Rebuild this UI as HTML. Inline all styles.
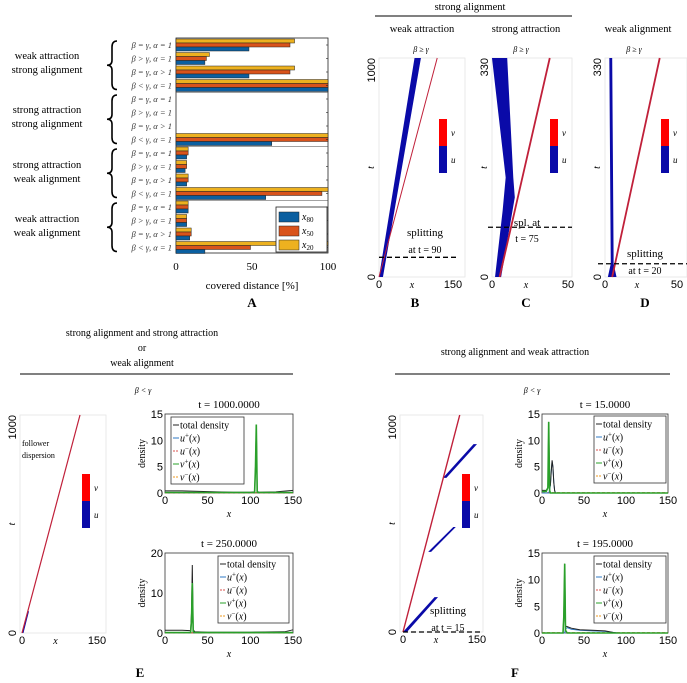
<!DOCTYPE html>
<html><head><meta charset="utf-8"><style>
html,body{margin:0;padding:0;background:#fff;}
svg{display:block;font-family:"Liberation Serif",serif;}
.s{font-family:"Liberation Sans",sans-serif;}
.i{font-style:italic;}
</style></head><body>
<svg id="fig" width="687" height="683" viewBox="0 0 687 683">
<g font-size="10.5" text-anchor="middle">
<text x="47" y="59">weak attraction</text><text x="47" y="73">strong alignment</text>
<text x="47" y="113">strong attraction</text><text x="47" y="127">strong alignment</text>
<text x="47" y="168">strong attraction</text><text x="47" y="182">weak alignment</text>
<text x="47" y="222">weak attraction</text><text x="47" y="236">weak alignment</text>
</g>
<text x="252" y="289" font-size="11" text-anchor="middle">covered distance [%]</text>
<text x="252" y="307" font-size="13" font-weight="bold" text-anchor="middle">A</text>

<text x="470" y="10" font-size="10.5" text-anchor="middle">strong alignment</text>
<line x1="375" y1="16" x2="572" y2="16" stroke="#000" stroke-width="1"/>
<text x="422" y="32" font-size="10.5" text-anchor="middle">weak attraction</text>
<text x="526" y="32" font-size="10.5" text-anchor="middle">strong attraction</text>
<text x="638" y="32" font-size="10.5" text-anchor="middle">weak alignment</text>
<text x="421" y="52" font-size="8" text-anchor="middle" class="i">β ≥ γ</text>
<text x="521" y="52" font-size="8" text-anchor="middle" class="i">β ≥ γ</text>
<text x="634" y="52" font-size="8" text-anchor="middle" class="i">β ≥ γ</text>
<text x="415" y="307" font-size="13" font-weight="bold" text-anchor="middle">B</text>
<text x="526" y="307" font-size="13" font-weight="bold" text-anchor="middle">C</text>
<text x="645" y="307" font-size="13" font-weight="bold" text-anchor="middle">D</text>

<g font-size="10" text-anchor="middle">
<text x="142" y="336">strong alignment and strong attraction</text>
<text x="142" y="351">or</text>
<text x="142" y="366">weak alignment</text>
</g>
<line x1="20" y1="374" x2="293" y2="374" stroke="#000"/>
<text x="143" y="393" font-size="8" class="i" text-anchor="middle">β &lt; γ</text>
<text x="140" y="677" font-size="13" font-weight="bold" text-anchor="middle">E</text>
<text x="515" y="355" font-size="10" text-anchor="middle">strong alignment and weak attraction</text>
<line x1="395" y1="374" x2="670" y2="374" stroke="#000"/>
<text x="532" y="393" font-size="8" class="i" text-anchor="middle">β &lt; γ</text>
<text x="515" y="677" font-size="13" font-weight="bold" text-anchor="middle">F</text>
</svg>
<script>
var NS="http://www.w3.org/2000/svg";
var svg=document.getElementById('fig');
function mk(tag,attrs,parent){var e=document.createElementNS(NS,tag);for(var k in attrs)e.setAttribute(k,attrs[k]);(parent||svg).appendChild(e);return e;}
function txt(x,y,s,attrs,parent){var a=attrs||{};a.x=x;a.y=y;var e=mk('text',a,parent);e.textContent=s;return e;}

/* ===== Panel A data ===== */
var rowLabels=["β = γ, α = 1","β > γ, α = 1","β = γ, α > 1","β < γ, α = 1","β = γ, α = 1","β > γ, α = 1","β = γ, α > 1","β < γ, α = 1","β = γ, α = 1","β > γ, α = 1","β = γ, α > 1","β < γ, α = 1","β = γ, α = 1","β > γ, α = 1","β = γ, α > 1","β < γ, α = 1"];
var x80=[48,19,48,100,0,0,0,63,7,6,7,59,8,7,9,19];
var x50=[75,20,75,100,0,0,0,100,8,7,8,96,8,7,10,49];
var x20=[78,22,78,100,0,0,0,100,8,7,8,100,8,7,10,100];
var aTicks=[0,50,100];
var seriesColors=["#0b5fa0","#d9531b","#edb11f"];
var ax0=176,ax1=328,ay0=38,ay1=253,rowH=13.5,rowStart=45;
function axA(v){return ax0+(ax1-ax0)*v/100;}
function ayA(i){return rowStart+i*rowH;}
var gA=mk('g',{});


var frA=mk('rect',{x:ax0,y:ay0,width:ax1-ax0,height:ay1-ay0,fill:'#fff',stroke:'#222','stroke-width':0.8},gA);


[2,4,6].forEach(function(k){var y=(ayA(4*k/2-1)+ayA(4*k/2))/2;var l=mk('line',{x1:ax0,x2:ax1,y1:y,y2:y,stroke:'#444','stroke-width':0.6},gA);

});
rowLabels.forEach(function(lab,i){
 var c=ayA(i);
 var vals=[x20[i],x50[i],x80[i]],cols=[seriesColors[2],seriesColors[1],seriesColors[0]],nm=['bar-x20','bar-x50','bar-x80'];
 for(var j=0;j<3;j++){
  if(vals[j]<=0)continue;
  var r=mk('rect',{x:axA(0),y:c-6+j*4,width:axA(vals[j])-axA(0),height:4,fill:cols[j],stroke:'#222','stroke-width':0.5},gA);
  
  
 }
 var t=txt(172,c+3,lab,{'font-size':8.5,'text-anchor':'end',class:'i',fill:'#333'},gA);
 
 
 var tk=mk('line',{x1:ax1-2,x2:ax1,y1:c,y2:c,stroke:'#222','stroke-width':0.6},gA);
 
 
});
aTicks.forEach(function(v){var t=txt(axA(v),270,String(v),{'font-size':11,'text-anchor':'middle'},gA);

});
[0,4,8,12].forEach(function(g){
 var y0=ayA(g)-4,y1=ayA(g+3)+4,m=(y0+y1)/2,x=112;
 var p=mk('path',{d:'M'+(x+5)+' '+y0+' Q'+x+' '+y0+' '+x+' '+(y0+6)+' L'+x+' '+(m-5)+' Q'+x+' '+m+' '+(x-5)+' '+m+' Q'+x+' '+m+' '+x+' '+(m+5)+' L'+x+' '+(y1-6)+' Q'+x+' '+y1+' '+(x+5)+' '+y1,fill:'none',stroke:'#000','stroke-width':1.6},gA);
 
 
});
var lgA=mk('g',{},gA);


mk('rect',{x:276,y:207,width:51,height:45,fill:'#fff',stroke:'#222','stroke-width':0.8},lgA);
var lgSub=['80','50','20'];
[0,1,2].forEach(function(j){
 var y=212+j*14;
 var sw=mk('rect',{x:279,y:y,width:20,height:10,fill:seriesColors[j],stroke:'#222','stroke-width':0.5},lgA);
 
 
 var t=txt(302,y+8,'',{'font-size':10,class:'i'},lgA);
 
 
 t.textContent='x';
 var ts=mk('tspan',{'font-size':7,dy:2,'font-style':'normal'},t);ts.textContent=lgSub[j];
});

/* ===== Space-time panels ===== */
function spaceTime(o){
 var g=mk('g',{});
 
 
 mk('rect',{x:o.x0,y:o.y0,width:o.x1-o.x0,height:o.y1-o.y0,fill:'#fff',stroke:'#e4e4e4','stroke-width':0.8},g);
 function X(v){return o.ox+(o.xmaxPx-o.ox)*v/o.xmax;}
 function Y(v){return o.y1-(o.y1-o.y0)*v/o.tmax;}
 (o.blue||[]).forEach(function(poly){
  var pts=poly.map(function(p){return X(p[0])+','+Y(p[1]);}).join(' ');
  var e=mk('polygon',{points:pts,fill:'#0a0aa8'},g);
  
  
 });
 (o.red||[]).forEach(function(l){
  var e=mk('line',{x1:X(l[0]),y1:Y(l[1]),x2:X(l[2]),y2:Y(l[3]),stroke:'#c0203a','stroke-width':l[4]||1.2},g);
  
  
 });
 if(o.split!=null){
  var e=mk('line',{x1:o.dx0,x2:o.dx1,y1:Y(o.split),y2:Y(o.split),stroke:'#000','stroke-width':1.3,'stroke-dasharray':'5,3'},g);
  
  
 }
 var cb=mk('rect',{x:o.cbx,y:119+o.cbdy,width:8,height:27,fill:'#ff0000'},g);
 
 
 var cb2=mk('rect',{x:o.cbx,y:146+o.cbdy,width:8,height:27,fill:'#0a0aa8'},g);
 
 
 var tv=txt(o.cbx+12,136+o.cbdy,'v',{'font-size':9,class:'i'},g);
 
 
 var tu=txt(o.cbx+12,163+o.cbdy,'u',{'font-size':9,class:'i'},g);
 
 
 var tb=o.y1+11;
 var t0=txt(X(0),tb,'0',{'font-size':11,'text-anchor':'middle',class:'s'},g);
 
 
 var t1=txt(X(o.xmax),tb,String(o.xmax),{'font-size':11,'text-anchor':'middle',class:'s'},g);
 
 
 var tx=txt((X(0)+X(o.xmax))/2-4,tb,'x',{'font-size':10,'text-anchor':'middle',class:'i'},g);
 
 
 var ly=txt(0,0,'0',{'font-size':11,'text-anchor':'middle',class:'s',transform:'translate('+(o.x0-4)+','+o.y1+') rotate(-90)'},g);
 
 
 var ly2=txt(0,0,String(o.tmax),{'font-size':11,'text-anchor':'end',class:'s',transform:'translate('+(o.x0-4)+','+o.y0+') rotate(-90)'},g);
 
 
 var tt=txt(0,0,'t',{'font-size':10,'text-anchor':'middle',class:'i',transform:'translate('+(o.x0-5)+','+((o.y0+o.y1)/2)+') rotate(-90)'},g);
 
 
 (o.notes||[]).forEach(function(n){var e=txt(n[0],n[1],n[2],{'font-size':n[3]||10,'text-anchor':n[4]||'middle'},g);
 
 });
 return g;
}
// B
var bBlue=[[[0,0],[8,0],[85,1000],[72,1000]]];
var bRed=[[0,0],[118,1000]];
spaceTime({name:'spacetime-b',x0:379,x1:465,y0:58,y1:277,ox:379,xmaxPx:453,xmax:150,tmax:1000,
 blue:bBlue,red:[[bRed[0][0],bRed[0][1],bRed[1][0],bRed[1][1],1]],split:90,dx0:379,dx1:456,cbx:439,cbdy:0,
 notes:[[425,236,'splitting',11],[425,253,'at t = 90',10]]});
// C
var cBlue=[[[2,0],[6,0],[15,120],[14,150],[10,330],[0,330],[9,150],[7,100]]];
var cRed=[[5,0],[38,330]];
spaceTime({name:'spacetime-c',x0:492,x1:572,y0:58,y1:277,ox:492,xmaxPx:568,xmax:50,tmax:330,
 blue:cBlue,red:[[cRed[0][0],cRed[0][1],cRed[1][0],cRed[1][1],1.8]],split:75,dx0:488,dx1:572,cbx:550,cbdy:0,
 notes:[[527,226,'spl. at',11],[527,242,'t = 75',10]]});
// D
var dBlue=[[[2,0],[8,0],[6,20],[5,330],[3,330],[4,20]]];
var dRed=[[5,0],[38,330]];
spaceTime({name:'spacetime-d',x0:605,x1:687,y0:58,y1:277,ox:605,xmaxPx:677,xmax:50,tmax:330,
 blue:dBlue,red:[[dRed[0][0],dRed[0][1],dRed[1][0],dRed[1][1],1.8]],split:20,dx0:598,dx1:687,cbx:661,cbdy:0,
 notes:[[645,257,'splitting',11],[645,274,'at t = 20',10]]});
// E
var eRed=[[0,0],[116,1000]];
spaceTime({name:'spacetime-e',x0:20,x1:106,y0:415,y1:633,ox:22,xmaxPx:97,xmax:150,tmax:1000,
 blue:[[[0,0],[3,0],[14,100],[11,100]]],red:[[eRed[0][0],eRed[0][1],eRed[1][0],eRed[1][1],1.2]],split:null,cbx:82,cbdy:355,
 notes:[[22,446,'follower',8,'start'],[22,458,'dispersion',8,'start']]});
// F
var fBlue=[[[0,0],[8,0],[71,161],[64,161]],[[51,369],[57,369],[107,484],[102,484]],[[81,710],[88,710],[150,866],[143,866]]];
var fRed=[[0,0],[115,1000]];
spaceTime({name:'spacetime-f',x0:400,x1:483,y0:415,y1:632,ox:403,xmaxPx:477,xmax:150,tmax:1000,
 blue:fBlue,red:[[fRed[0][0],fRed[0][1],fRed[1][0],fRed[1][1],1.4]],split:0,dx0:403,dx1:480,cbx:462,cbdy:355,
 notes:[[448,614,'splitting',11],[448,631,'at t = 15',10]]});

/* ===== Density plots ===== */
var e1X=[0,20,40,60,80,100,105,106,107,108,110,130,150];
var e1Total=[0.4,0.4,0.3,0.2,0.15,0.15,0.2,5,13,0.3,0.15,0.2,0.5];
var e1Green=[0.1,0.1,0.1,0.1,0.1,0.1,0.1,5,13,0.1,0.1,0.1,0.1];
var e2X=[0,10,20,29,30,31,32,33,35,50,100,140,150];
var e2Total=[0.7,0.7,0.7,0.6,0.6,5,17,0.8,0.3,0.2,0.2,0.3,0.8];
var e2Green=[0.1,0.1,0.1,0.1,0.1,3,12.5,0.3,0.1,0.1,0.1,0.1,0.1];
var f1X=[0,5,7,8,9,10,11,12,13,14,15,16,20,150];
var f1Total=[0.5,0.5,1,13.5,1,1.5,4,6.2,5,2,0.5,0,0,0];
var f1Green=[0.3,0.3,1,13.5,0.5,0,0,0,0,0,0,0,0,0];
var f1Blue=[0,0,0,0,0.5,1.5,4,6,5,2,0.5,0,0,0];
var f2X=[0,25,26,27,28,30,35,45,60,75,85,90,150];
var f2Total=[0,0,3,13,1.3,1.2,0.9,0.6,0.5,0.4,0.1,0,0];
var f2Green=[0,0,3,13,0.5,0,0,0,0,0,0,0,0];
var f2Blue=[0,0,0,0,0.8,1,0.7,0.5,0.4,0.3,0.1,0,0];
var dTicksX=[0,50,100,150];

function density(o){
 var g=mk('g',{});
 
 
 function X(v){return o.x0+(o.x1-o.x0)*v/150;}
 function Y(v){return o.y1-(o.y1-o.y0)*v/o.ymax;}
 mk('rect',{x:o.x0,y:o.y0,width:o.x1-o.x0,height:o.y1-o.y0,fill:'#fff',stroke:'#333','stroke-width':0.8},g);
 var tl=txt((o.x0+o.x1)/2,o.y0-6,o.title,{'font-size':11,'text-anchor':'middle'},g);
 
 
 dTicksX.forEach(function(v){var t=txt(X(v),o.y1+11,String(v),{'font-size':11,'text-anchor':'middle',class:'s'},g);
 
 });
 o.yticks.forEach(function(v){var t=txt(o.x0-2,Y(v)+4,String(v),{'font-size':11,'text-anchor':'end',class:'s'},g);
 
 });
 var xt=txt((o.x0+o.x1)/2,o.y1+24,'x',{'font-size':10,'text-anchor':'middle',class:'i'},g);
 
 
 var yt=txt(0,0,'density',{'font-size':10,'text-anchor':'middle',transform:'translate('+(o.x0-20)+','+((o.y0+o.y1)/2)+') rotate(-90)'},g);
 
 
 function line(xs,ys,col,w,dash,nm){
  var d=xs.map(function(x,i){return (i?'L':'M')+X(x).toFixed(1)+' '+Y(ys[i]).toFixed(1);}).join(' ');
  var p=mk('path',{d:d,fill:'none',stroke:col,'stroke-width':w},g);
  if(dash)p.setAttribute('stroke-dasharray',dash);
  
  
 }
 var zeros=o.xs.map(function(){return 0.05;});
 line(o.xs,zeros,'#ed9a1f',1,'3,2','series-v-minus');
 line(o.xs,zeros,'#d9534f',1,'3,2','series-u-minus');
 if(o.blue)line(o.xs,o.blue,'#2f78c4',1,null,'series-u-plus');
 line(o.xs,o.total,'#222',1,null,'series-total-density');
 line(o.xs,o.green,'#2aa02a',1.6,null,'series-v-plus');
 var lg=mk('g',{},g);
 
 
 mk('rect',{x:o.lx,y:o.ly,width:o.lw,height:67,fill:'#fff',stroke:'#333','stroke-width':0.8},lg);
 var items=[['total density','#222',null],['u','#2f78c4',null,'+'],['u','#d9534f','3,2','−'],['v','#2aa02a',null,'+'],['v','#ed9a1f','3,2','−']];
 items.forEach(function(it,k){
  var y=o.ly+8+k*13;
  var l=mk('line',{x1:o.lx+2,x2:o.lx+8,y1:y,y2:y,stroke:it[1],'stroke-width':1},lg);
  if(it[2])l.setAttribute('stroke-dasharray','2,1');
  
  
  var t=txt(o.lx+9,y+3.5,'',{'font-size':10},lg);
  
  
  if(k===0){t.textContent=it[0];}
  else{
   var a=mk('tspan',{'font-style':'italic'},t);a.textContent=it[0];
   var b=mk('tspan',{'font-size':7,dy:-4},t);b.textContent=it[3];
   var c=mk('tspan',{dy:4},t);c.textContent='(';
   var d=mk('tspan',{'font-style':'italic'},t);d.textContent='x';
   var e=mk('tspan',{},t);e.textContent=')';
  }
 });
}
density({name:'density-e-t1000',x0:165,x1:293,y0:414,y1:493,ymax:15,yticks:[0,5,10,15],title:'t = 1000.0000',xs:e1X,total:e1Total,green:e1Green,lx:171,ly:417,lw:73});
density({name:'density-e-t250',x0:165,x1:293,y0:553,y1:633,ymax:20,yticks:[0,10,20],title:'t = 250.0000',xs:e2X,total:e2Total,green:e2Green,lx:218,ly:556,lw:71});
density({name:'density-f-t15',x0:542,x1:668,y0:414,y1:493,ymax:15,yticks:[0,5,10,15],title:'t = 15.0000',xs:f1X,total:f1Total,green:f1Green,blue:f1Blue,lx:594,ly:416,lw:72});
density({name:'density-f-t195',x0:542,x1:668,y0:553,y1:633,ymax:15,yticks:[0,5,10,15],title:'t = 195.0000',xs:f2X,total:f2Total,green:f2Green,blue:f2Blue,lx:594,ly:556,lw:72});
</script>
</body></html>
